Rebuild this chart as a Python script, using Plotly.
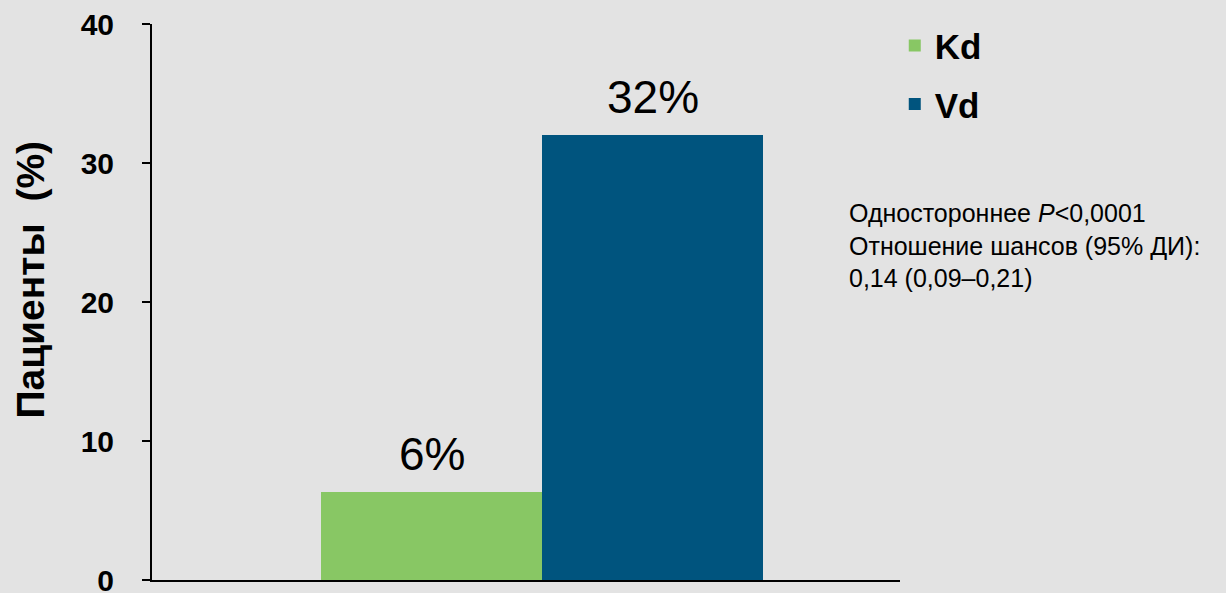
import plotly.graph_objects as go

groups = ["Kd", "Vd"]
values = [6.3, 32.0]
labels = ["6%", "32%"]
colors = ["#88c764", "#00547e"]
y_ticks = [0, 10, 20, 30, 40]

FONT = "Arial, 'Liberation Sans', sans-serif"
BG = "#e3e3e3"

fig = go.Figure()
for g, v, c in zip(groups, values, colors):
    fig.add_trace(go.Bar(
        x=[g], y=[v], name=g, marker=dict(color=c, line=dict(width=0)),
        width=1.0, legendgroup=g, hoverinfo="skip",
    ))

for g, v, t in zip(groups, values, labels):
    fig.add_annotation(x=g, y=v, text=t, showarrow=False, yanchor="bottom",
                       yshift=10, font=dict(family=FONT, size=46, color="#000000"))

fig.add_annotation(
    xref="paper", yref="paper", x=0.929, y=0.688, xanchor="left", yanchor="top",
    align="left", showarrow=False,
    text="Одностороннее <i>P</i>&lt;0,0001<br>Отношение шансов (95% ДИ):<br>0,14 (0,09–0,21)",
    font=dict(family=FONT, size=25, color="#000000"),
)

fig.add_annotation(
    xref="paper", yref="paper", x=-0.162, y=0.54, xanchor="center", yanchor="middle",
    textangle=-90, showarrow=False, text="Пациенты  (%)",
    font=dict(family=FONT, size=39, color="#000000", weight="bold"),
)

fig.update_layout(
    width=1226, height=593,
    paper_bgcolor=BG, plot_bgcolor=BG,
    margin=dict(l=152, r=326, t=24, b=13, autoexpand=False),
    barmode="overlay", bargap=0,
    showlegend=True,
    legend=dict(x=0.993, y=1.014, xanchor="left", yanchor="top",
                font=dict(family=FONT, size=35, color="#000000", weight="bold"),
                bgcolor="rgba(0,0,0,0)", tracegroupgap=10),
    xaxis=dict(range=[-1.267, 2.118], showticklabels=False, showgrid=False,
               zeroline=False, showline=True, linecolor="#000000", linewidth=2,
               ticks="", fixedrange=True, automargin=False),
    yaxis=dict(range=[0, 40], tickvals=y_ticks, showgrid=False, zeroline=False,
               showline=True, linecolor="#000000", linewidth=2,
               ticks="outside", ticklen=8, tickwidth=2, tickcolor="#000000",
               ticklabelstandoff=22, ticklabeloverflow="allow", automargin=False,
               tickfont=dict(family=FONT, size=30, color="#000000", weight="bold")),
)

fig.write_html("out.html", config={"displayModeBar": False},
               post_script="document.body.style.margin='0';document.body.style.overflow='hidden';")
